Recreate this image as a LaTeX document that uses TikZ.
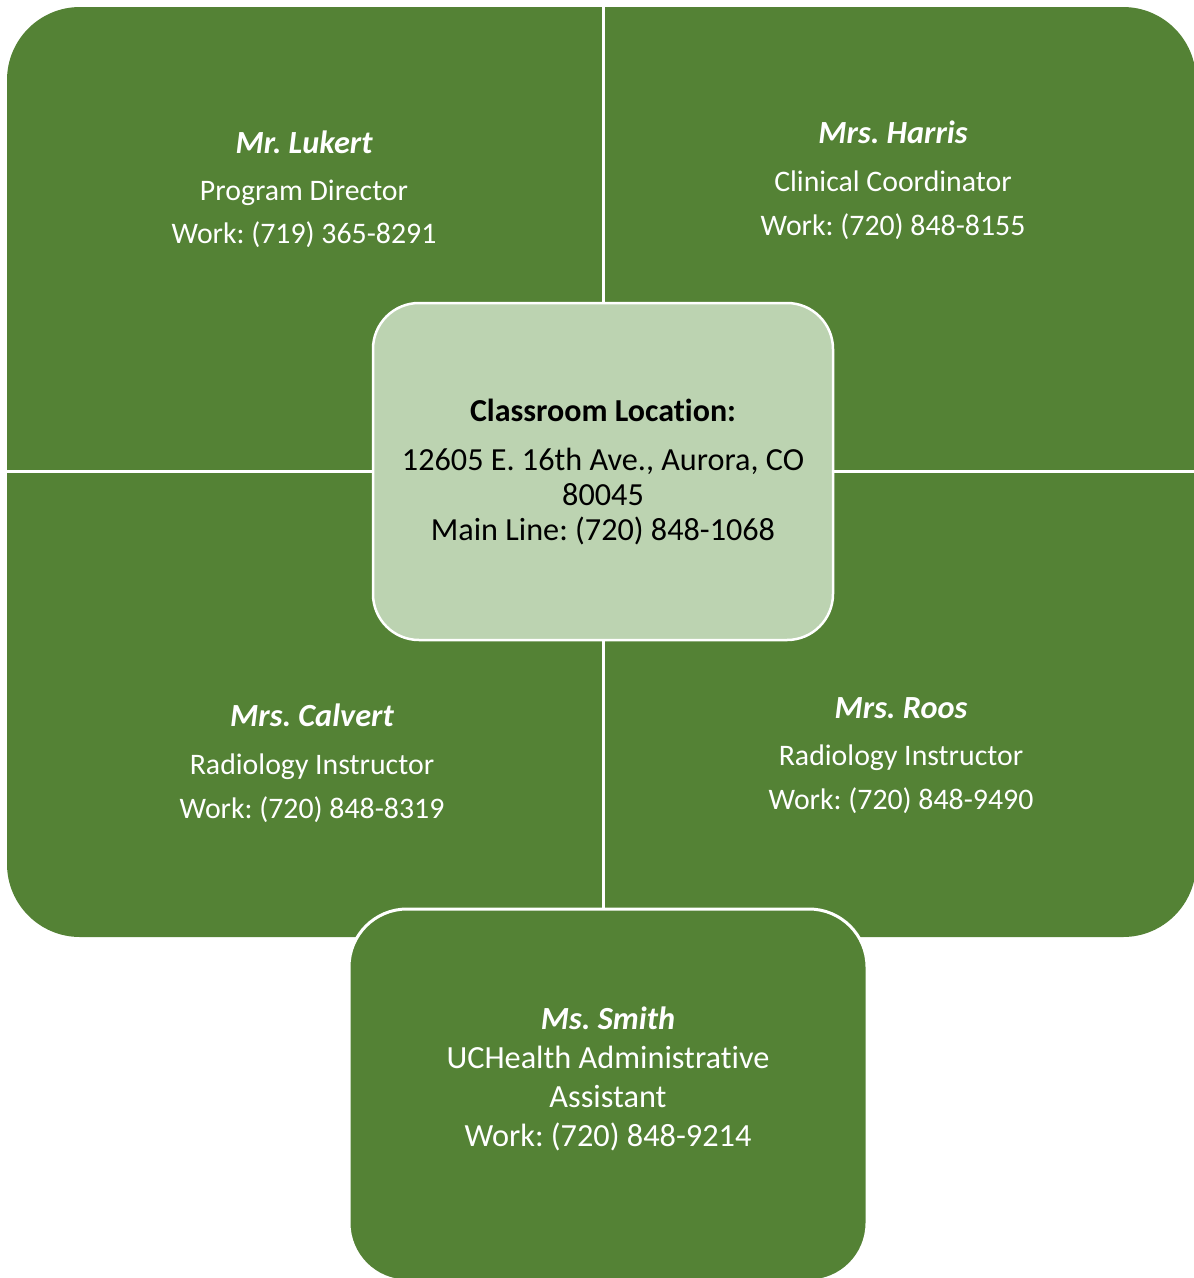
\documentclass[tikz,border=0pt]{standalone}
\usepackage{fontspec}
\setmainfont{Carlito}[Ligatures=NoCommon]
\frenchspacing
\definecolor{qgreen}{HTML}{548235}
\definecolor{cgreen}{HTML}{BCD3B1}
\begin{document}
\frenchspacing
\begin{tikzpicture}[x=1pt,y=-1pt,
  every node/.style={inner sep=0pt, outer sep=0pt},
  qline/.style={font=\fontsize{29.8}{35}\selectfont, text=white, anchor=base},
  qname/.style={qline, font=\fontsize{32.3}{35}\selectfont\bfseries\itshape},
  cline/.style={font=\fontsize{32.2}{35}\selectfont, text=black, anchor=base},
  ctitle/.style={cline, font=\fontsize{32}{35}\selectfont\bfseries},
  sline/.style={font=\fontsize{32.3}{39}\selectfont, text=white, anchor=base},
  sname/.style={sline, font=\fontsize{32.3}{39}\selectfont\bfseries\itshape},
  divider/.style={white, line width=3pt}]
\useasboundingbox (0,0) rectangle (1194,1278);
% quadrants
\fill[qgreen, rounded corners=73pt] (7,7) rectangle (1196,937);
\draw[divider] (603,0) -- (603,940);
\draw[divider] (0,471) -- (1200,471);
% centre box
\node[name=centre, draw=white, line width=2.5pt, fill=cgreen, rounded corners=46pt,
      minimum width=460pt, minimum height=337pt] at (603,471.5) {};
% bottom box
\node[name=smith, draw=white, line width=3pt, fill=qgreen, rounded corners=58pt,
      minimum width=518pt, minimum height=372pt] at (608,1095) {};
% Lukert
\node[qname] (l1) at (304,153) {Mr. Lukert};
\node[qline] (l2) at (304,200) {Program Director};
\node[qline] (l3) at (304,243) {Work: (719) 365-8291};
% Harris
\node[qname] (h1) at (893,143) {Mrs. Harris};
\node[qline] (h2) at (893,191) {Clinical Coordinator};
\node[qline] (h3) at (893,235) {Work: (720) 848-8155};
% Calvert
\node[qname] (c1) at (312,726) {Mrs. Calvert};
\node[qline] (c2) at (312,774) {Radiology Instructor};
\node[qline] (c3) at (312,818) {Work: (720) 848-8319};
% Roos
\node[qname] (r1) at (901,718) {Mrs. Roos};
\node[qline] (r2) at (901,765) {Radiology Instructor};
\node[qline] (r3) at (901,809) {Work: (720) 848-9490};
% centre text
\node[ctitle] (t1) at (603,421) {Classroom Location:};
\node[cline] (t2) at (603,470) {12605 E. 16th Ave., Aurora, CO};
\node[cline] (t3) at (603,505) {80045};
\node[cline] (t4) at (603,540) {Main Line: (720) 848-1068};
% Smith
\node[sname] (s1) at (608,1029) {Ms. Smith};
\node[sline] (s2) at (608,1068) {UCHealth Administrative};
\node[sline] (s3) at (608,1107) {Assistant};
\node[sline] (s4) at (608,1146) {Work: (720) 848-9214};
\end{tikzpicture}
\end{document}
